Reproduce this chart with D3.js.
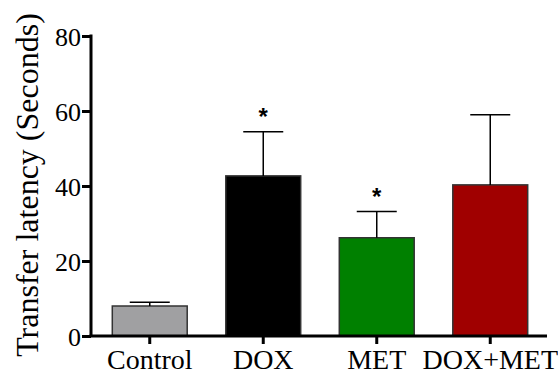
<!DOCTYPE html>
<html>
<head>
<meta charset="utf-8">
<script src="https://cdn.jsdelivr.net/npm/d3@7"></script>
<style>
  body { margin: 0; background: #fff; }
  text { font-family: "Liberation Serif", "Times New Roman", serif; fill: #000; }
</style>
</head>
<body>
<div id="chart"></div>
<script>
const categories = ['Control', 'DOX', 'MET', 'DOX+MET'];
const means = [8.0, 42.7, 26.2, 40.3];
const errors = [1.0, 11.8, 7.0, 18.7];
const stars = ['', '*', '*', ''];
const yTicks = [0, 20, 40, 60, 80];
const colors = ['#a0a0a2', '#000000', '#008000', '#a00000'];

const width = 558, height = 374;
const svg = d3.select('#chart').append('svg')
    .attr('width', width)
    .attr('height', height);

const x = d3.scaleBand()
    .domain(categories)
    .range([93, 547])
    .paddingInner(0.34)
    .paddingOuter(0.17);

const y = d3.scaleLinear()
    .domain([0, 80])
    .range([336, 36]);

const axisX = 91;

// bars
svg.selectAll('rect.bar')
    .data(categories)
    .enter()
    .append('rect')
    .attr('class', 'bar')
    .attr('x', d => x(d))
    .attr('width', x.bandwidth())
    .attr('y', (d, i) => y(means[i]))
    .attr('height', (d, i) => y(0) - y(means[i]))
    .attr('fill', (d, i) => colors[i])
    .attr('stroke', '#333')
    .attr('stroke-width', 1.5);

// error bars
const cap = 20;
categories.forEach((c, i) => {
    const cx = x(c) + x.bandwidth() / 2;
    svg.append('line')
        .attr('x1', cx).attr('x2', cx)
        .attr('y1', y(means[i])).attr('y2', y(means[i] + errors[i]))
        .attr('stroke', '#000').attr('stroke-width', 1.5);
    svg.append('line')
        .attr('x1', cx - cap).attr('x2', cx + cap)
        .attr('y1', y(means[i] + errors[i])).attr('y2', y(means[i] + errors[i]))
        .attr('stroke', '#000').attr('stroke-width', 1.5);
    if (stars[i]) {
        svg.append('text')
            .attr('x', cx)
            .attr('y', y(means[i] + errors[i]) - 7)
            .attr('text-anchor', 'middle')
            .style('font-family', 'Arial, "Liberation Sans", sans-serif')
            .style('font-size', '24px')
            .style('font-weight', 'bold')
            .text(stars[i]);
    }
});

// y axis
const yAxis = svg.append('g')
    .attr('transform', `translate(${axisX},0)`)
    .call(d3.axisLeft(y).tickValues(yTicks).tickSize(9).tickPadding(1));
yAxis.select('.domain').attr('stroke-width', 3).attr('d', `M0,${y(80) - 1.5}V${y(0)}`);
yAxis.selectAll('.tick line').attr('stroke-width', 3);
yAxis.selectAll('.tick text').style('font-size', '26px').attr('dy', '0.35em');

// x axis
const xAxis = svg.append('g')
    .attr('transform', `translate(0,${y(0)})`)
    .call(d3.axisBottom(x).tickSize(8));
xAxis.select('.domain').attr('stroke-width', 3).attr('d', `M${axisX - 1.5},0H547`);
xAxis.selectAll('.tick line').attr('stroke-width', 3);
xAxis.selectAll('.tick text').style('font-size', '28px').attr('y', 33).attr('dy', 0);

// y label
svg.append('text')
    .attr('transform', `translate(38,${y(40) - 1}) rotate(-90)`)
    .attr('text-anchor', 'middle')
    .style('font-size', '32px')
    .text('Transfer latency (Seconds)');
</script>
</body>
</html>
